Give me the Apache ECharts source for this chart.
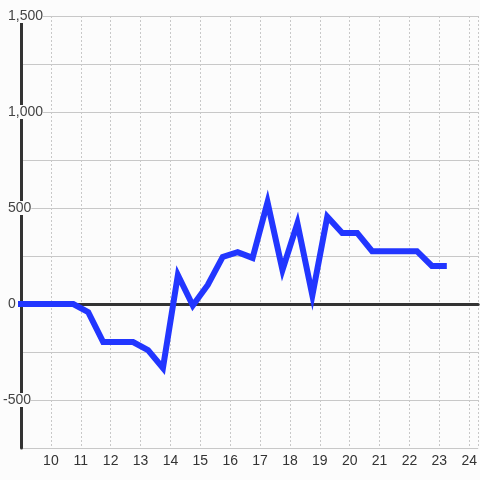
<!DOCTYPE html>
<html>
<head>
<meta charset="utf-8">
<script src="https://cdn.jsdelivr.net/npm/echarts@6/dist/echarts.min.js"></script>
<style>
html,body{margin:0;padding:0;background:#fcfcfc;}
#c{width:480px;height:480px;}
</style>
</head>
<body>
<div id="c"></div>
<script>
var xValues = [8.75, 9.25, 9.75, 10.25, 10.75, 11.25, 11.75, 12.25, 12.75, 13.25, 13.75, 14.25, 14.75, 15.25, 15.75, 16.25, 16.75, 17.25, 17.75, 18.25, 18.75, 19.25, 19.75, 20.25, 20.75, 21.25, 21.75, 22.25, 22.75, 23.25];
var yValues = [0, 0, 0, 0, 0, -42, -198, -198, -198, -240, -333, 151, -8, 99, 245, 270, 240, 530, 177, 420, 45, 455, 370, 370, 275, 275, 275, 275, 198, 198];
var xTickLabels = [10, 11, 12, 13, 14, 15, 16, 17, 18, 19, 20, 21, 22, 23, 24];
var yTickLabels = [-500, 0, 500, 1000, 1500];

var data = xValues.map(function (x, i) { return [x, yValues[i]]; });
var font = "'Liberation Sans', Arial, sans-serif";

var chart = echarts.init(document.getElementById('c'), null, {renderer: 'canvas'});
chart.setOption({
  backgroundColor: '#fcfcfc',
  animation: false,
  grid: {left: 20, right: 0, top: 16, bottom: 32, containLabel: false},
  xAxis: [{
    type: 'value', min: 9, max: 24.3, interval: 1,
    axisLine: {show: false, onZero: false},
    axisTick: {show: false},
    axisLabel: {
      color: '#333', fontSize: 14, fontFamily: font, margin: 6,
      showMinLabel: false, showMaxLabel: false,
      formatter: function (v) { return xTickLabels.indexOf(v) >= 0 ? String(v) : ''; }
    },
    splitLine: {show: true, lineStyle: {color: '#c8c8c8', type: [2, 2], width: 1}}
  }, {
    type: 'value', min: 9, max: 24.3, position: 'top',
    axisLine: {show: true, onZero: true, lineStyle: {color: '#333', width: 3}},
    axisTick: {show: false},
    axisLabel: {show: false},
    splitLine: {show: false}
  }],
  yAxis: {
    type: 'value', min: -750, max: 1500, interval: 250,
    axisLine: {show: true, onZero: false, lineStyle: {color: '#333', width: 3}},
    axisTick: {show: false},
    axisLabel: {
      color: '#444', fontSize: 14, fontFamily: font, align: 'left', margin: 18,
      formatter: function (v) {
        if (yTickLabels.indexOf(v) < 0) { return ''; }
        var s = v.toLocaleString('en-US');
        return v < 0 ? '{t|' + s + '}' : '{p| }{t|' + s + '}';
      },
      rich: {
        p: {width: 5, fontSize: 14, fontFamily: font, backgroundColor: '#fcfcfc'},
        t: {color: '#444', fontSize: 14, fontFamily: font, backgroundColor: '#fcfcfc'}
      }
    },
    splitLine: {show: true, lineStyle: {color: '#c8c8c8', width: 1}}
  },
  series: [{
    type: 'line',
    xAxisIndex: 0,
    data: data,
    showSymbol: false,
    symbol: 'none',
    z: 5,
    lineStyle: {color: '#2236ff', width: 6, cap: 'butt', join: 'miter'}
  }]
});
</script>
</body>
</html>
